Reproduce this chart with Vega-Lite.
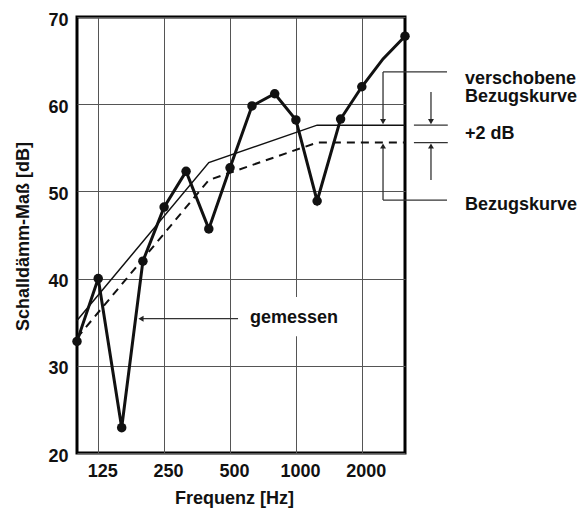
{
  "$schema": "https://vega.github.io/schema/vega-lite/v6.json",
  "width": 328,
  "height": 436,
  "autosize": {"type": "none"},
  "padding": {"left": 77, "top": 17, "right": 176, "bottom": 55},
  "background": "white",
  "config": {"view": {"stroke": "black", "strokeWidth": 3}, "font": "Liberation Sans"},
  "datasets": {
    "gemessen": [
      {"f": 100, "r": 32.8}, {"f": 125, "r": 40.0}, {"f": 160, "r": 22.9}, {"f": 200, "r": 42.0},
      {"f": 250, "r": 48.2}, {"f": 315, "r": 52.3}, {"f": 400, "r": 45.7}, {"f": 500, "r": 52.7},
      {"f": 630, "r": 59.8}, {"f": 800, "r": 61.2}, {"f": 1000, "r": 58.2}, {"f": 1250, "r": 48.9},
      {"f": 1600, "r": 58.3}, {"f": 2000, "r": 62.0}, {"f": 2500, "r": 65.2}, {"f": 3150, "r": 67.8}
    ],
    "bezug": [{"f": 100, "r": 33.2}, {"f": 400, "r": 51.3}, {"f": 1250, "r": 55.6}, {"f": 3150, "r": 55.6}],
    "verschoben": [{"f": 100, "r": 35.2}, {"f": 400, "r": 53.3}, {"f": 1250, "r": 57.6}, {"f": 3150, "r": 57.6}],
    "minor": [{"f": 160}, {"f": 200}, {"f": 315}, {"f": 400}, {"f": 630}, {"f": 800}, {"f": 1250}, {"f": 1600}, {"f": 2500}],
    "segmente": [
      {"f": 2500, "f2": 4900, "r": 63.7, "r2": 63.7},
      {"f": 2500, "f2": 2500, "r": 63.7, "r2": 58.2},
      {"f": 2500, "f2": 4900, "r": 49.0, "r2": 49.0},
      {"f": 2500, "f2": 2500, "r": 49.0, "r2": 55.0},
      {"f": 3460, "f2": 4940, "r": 57.6, "r2": 57.6},
      {"f": 3460, "f2": 4940, "r": 55.6, "r2": 55.6},
      {"f": 4140, "f2": 4140, "r": 61.4, "r2": 58.2},
      {"f": 4140, "f2": 4140, "r": 51.3, "r2": 55.0},
      {"f": 544, "f2": 200, "r": 35.4, "r2": 35.4}
    ],
    "pfeile": [
      {"f": 2500, "r": 58.0, "dir": "down"},
      {"f": 2500, "r": 55.2, "dir": "up"},
      {"f": 4140, "r": 58.0, "dir": "down"},
      {"f": 4140, "r": 55.2, "dir": "up"},
      {"f": 196, "r": 35.4, "dir": "left"}
    ],
    "texte": [
      {"f": 5920, "r": 62.9, "t": "verschobene"},
      {"f": 5920, "r": 60.8, "t": "Bezugskurve"},
      {"f": 5920, "r": 56.6, "t": "+2 dB"},
      {"f": 5920, "r": 48.4, "t": "Bezugskurve"},
      {"f": 617, "r": 35.5, "t": "gemessen"}
    ],
    "luecke": [{"f": 880, "f2": 1150, "r": 33.4, "r2": 37.9}]
  },
  "encoding": {
    "x": {
      "field": "f", "type": "quantitative",
      "scale": {"type": "log", "domain": [100, 3150], "nice": false},
      "axis": {
        "values": [125, 250, 500, 1000, 2000], "format": "d", "grid": true, "gridColor": "#555", "gridWidth": 1,
        "ticks": false, "domain": false, "labelFontSize": 18, "labelFontWeight": "bold", "labelColor": "#111",
        "labelPadding": 9, "labelOffset": 4, "labelFlush": false,
        "title": "Frequenz [Hz]", "titleFontSize": 18, "titleFontWeight": "bold", "titleColor": "#111",
        "titleX": 157, "titleY": 45, "titleBaseline": "middle", "titleAnchor": null, "titleAlign": "center"
      }
    },
    "y": {
      "field": "r", "type": "quantitative",
      "scale": {"domain": [20, 70], "nice": false},
      "axis": {
        "values": [20, 30, 40, 50, 60, 70], "grid": true, "gridColor": "#555", "gridWidth": 1,
        "ticks": false, "domain": false, "labelFontSize": 18, "labelFontWeight": "bold", "labelColor": "#111",
        "labelPadding": 9, "labelOffset": 3, "labelFlush": false,
        "title": "Schalldämm-Maß [dB]", "titleFontSize": 18, "titleFontWeight": "bold", "titleColor": "#111",
        "titleX": -54, "titleY": 219, "titleAngle": -90, "titleBaseline": "middle", "titleAlign": "center"
      }
    }
  },
  "layer": [
    {"data": {"name": "luecke"}, "mark": {"type": "rect", "fill": "white"}, "encoding": {"x2": {"field": "f2"}, "y2": {"field": "r2"}}},
    {"data": {"name": "minor"}, "mark": {"type": "rule", "color": "#111", "strokeWidth": 1.5}, "encoding": {"y": {"datum": 20}, "y2": {"datum": 20.6}}},
    {"data": {"name": "verschoben"}, "mark": {"type": "line", "color": "#111", "strokeWidth": 1.5}, "encoding": {}},
    {"data": {"name": "bezug"}, "mark": {"type": "line", "color": "#111", "strokeWidth": 2, "strokeDash": [8, 6]}, "encoding": {}},
    {"data": {"name": "gemessen"}, "mark": {"type": "line", "color": "#111", "strokeWidth": 3}, "encoding": {}},
    {"data": {"name": "gemessen"}, "transform": [{"filter": "datum.f != 2500"}], "mark": {"type": "point", "filled": true, "color": "#111", "size": 90, "opacity": 1}, "encoding": {}},
    {"data": {"name": "segmente"}, "mark": {"type": "rule", "color": "#333", "strokeWidth": 1.3}, "encoding": {"x2": {"field": "f2"}, "y2": {"field": "r2"}}},
    {"data": {"name": "pfeile"}, "mark": {"type": "point", "filled": true, "color": "#222", "size": 35, "opacity": 1},
      "encoding": {"shape": {"field": "dir", "type": "nominal", "scale": {"domain": ["down", "up", "left"], "range": ["triangle-down", "triangle-up", "triangle-left"]}, "legend": null}}},
    {"data": {"name": "texte"}, "mark": {"type": "text", "align": "left", "baseline": "middle", "fontSize": 18, "fontWeight": "bold", "color": "#111"},
      "encoding": {"text": {"field": "t"}}}
  ]
}
